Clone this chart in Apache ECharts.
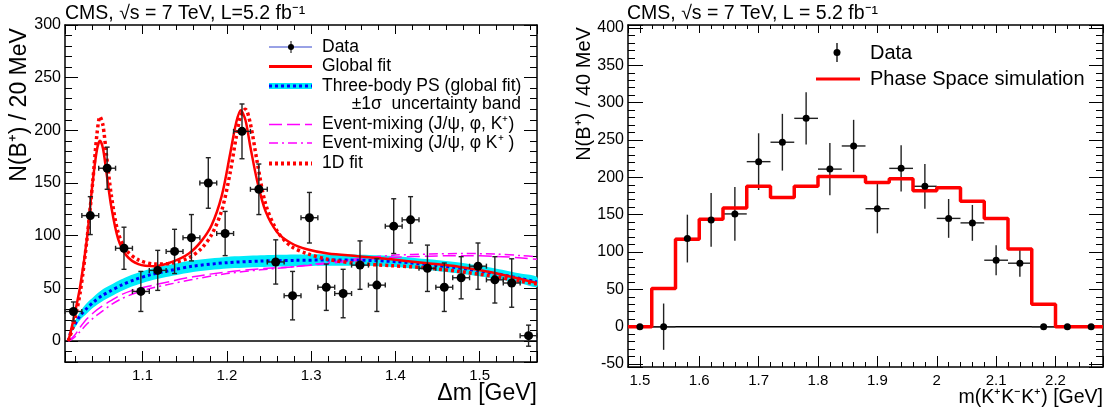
<!DOCTYPE html>
<html lang="en">
<head>
<meta charset="UTF-8">
<title>CMS B+ -> J/psi phi K+</title>
<script src="https://cdn.jsdelivr.net/npm/echarts@6/dist/echarts.min.js"></script>
<style>html,body{margin:0;background:#fff}</style>
</head>
<body>
<div id="main" style="width:1111px;height:417px;"></div>
<script>
// ---- left panel: delta m spectrum (20 MeV bins) ----
const dmCenters = [1.018, 1.038, 1.058, 1.078, 1.098, 1.118, 1.138, 1.158, 1.178, 1.198, 1.218, 1.238, 1.258, 1.278,
                   1.298, 1.318, 1.338, 1.358, 1.378, 1.398, 1.418, 1.438, 1.458, 1.478, 1.498, 1.518, 1.538, 1.558];
const dmCounts = [28, 119, 164, 88, 47, 67, 85, 98, 150, 102, 199, 144, 75, 43,
                  117, 51, 45, 72, 53, 109, 115, 69, 51, 60, 71, 58, 55, 5];
const dmErrs = [9, 18, 20, 20, 19, 19, 21, 22, 24, 21, 26, 24, 21, 23,
                24, 22, 23, 23, 25, 26, 22, 22, 23, 20, 22, 22, 23, 10];

// fit curves
const fitX = [1.012, 1.018, 1.026, 1.034, 1.041, 1.046, 1.0495, 1.053, 1.057, 1.063, 1.071, 1.081, 1.095, 1.115,
              1.135, 1.155, 1.170, 1.182, 1.194, 1.204, 1.211, 1.2165, 1.222, 1.228, 1.236, 1.246, 1.260, 1.276,
              1.295, 1.320, 1.355, 1.395, 1.435, 1.475, 1.515, 1.550, 1.568];
const globalFit = [0, 20, 52, 97, 152, 182, 190, 183, 161, 127, 97, 81, 73, 71,
                   75, 83, 95, 110, 138, 178, 207, 219, 210, 184, 152, 123, 103, 93,
                   87, 83, 80.5, 77.5, 74, 70.5, 65, 58.5, 55];
const fit1D = [0, 15, 46, 96, 152, 197, 213, 205, 178, 138, 103, 86, 77, 73,
               74, 79, 88, 101, 124, 160, 193, 214, 220, 206, 170, 130, 104, 90,
               83, 77.5, 73.5, 71.5, 69.5, 66, 61.5, 56.5, 54];

const bkgX = [1.012, 1.015, 1.020, 1.026, 1.034, 1.042, 1.052, 1.062, 1.075, 1.090, 1.110, 1.130,
              1.160, 1.200, 1.240, 1.280, 1.320, 1.360, 1.400, 1.440, 1.480, 1.520, 1.550, 1.568];
const psFit = [0, 9, 16, 24, 31, 37, 43, 47.5, 53, 58, 63, 66.5,
               71, 74.3, 75.8, 76.5, 76.8, 76.6, 75.3, 72.3, 68.8, 63.8, 59, 56];
const psLow = [0, 7, 13, 20, 26, 32, 37.5, 42, 47.5, 52.5, 57.5, 61,
               65.5, 68.8, 70.3, 71, 71.3, 71.4, 70.1, 67.1, 63.6, 59, 54.2, 51.2];
const psHigh = [0, 11, 19, 28, 36, 42, 48.5, 53, 58.5, 63.5, 68.5, 72,
                76.5, 79.8, 81.3, 82, 82.3, 81.8, 80.5, 77.5, 74, 68.6, 63.8, 60.8];
const mixA = [0, 2, 6, 13, 21, 27, 33, 38, 44, 48.5, 52.5, 56,
              61, 65.5, 68.5, 70.5, 73.5, 77, 79.5, 80.5, 81, 80.3, 78.8, 77.5];
const mixB = [0, 1, 4, 9, 16, 22, 28, 34, 40, 45, 50, 53.5,
              58.5, 64, 67.5, 70.5, 74.5, 78.5, 81.5, 82.5, 83, 82.5, 81, 80];

// ---- right panel: m(K+K-K+) (40 MeV bins) ----
const mCenters = [1.50, 1.54, 1.58, 1.62, 1.66, 1.70, 1.74, 1.78, 1.82, 1.86,
                  1.90, 1.94, 1.98, 2.02, 2.06, 2.10, 2.14, 2.18, 2.22, 2.26];
const mCounts = [0, 0, 118, 143, 151, 221, 247, 279, 211, 242, 158, 212, 188, 145, 139, 89, 85, 0, 0, 0];
const mErrs = [0, 31, 32, 36, 36, 38, 38, 35, 35, 35, 33, 31, 30, 26, 24, 20, 18, 0, 0, 0];
const phaseSpace = [0, 51, 117, 144, 159, 188, 173, 188, 201, 201, 193, 198, 182, 186, 168, 145, 104, 30, 0, 0];

const font = 'Liberation Sans, Arial, Helvetica, sans-serif';
const zip = (xs, ys) => xs.map((x, i) => [x, ys[i]]);

function errorBars(cap) {
    return function (params, api) {
        const x = api.value(0), y = api.value(1), e = api.value(2), w = api.value(3);
        const c = api.coord([x, y]);
        const hi = api.coord([x, y + e]), lo = api.coord([x, y - e]);
        const l = api.coord([x - w, y]), r = api.coord([x + w, y]);
        const st = {stroke: '#222', lineWidth: 1.4};
        const kids = [{type: 'line', shape: {x1: l[0], y1: c[1], x2: r[0], y2: c[1]}, style: st}];
        if (e > 0) kids.push({type: 'line', shape: {x1: c[0], y1: hi[1], x2: c[0], y2: lo[1]}, style: st});
        if (cap) {
            kids.push({type: 'line', shape: {x1: l[0], y1: c[1] - cap, x2: l[0], y2: c[1] + cap}, style: st});
            kids.push({type: 'line', shape: {x1: r[0], y1: c[1] - cap, x2: r[0], y2: c[1] + cap}, style: st});
            if (e > 0) {
                kids.push({type: 'line', shape: {x1: c[0] - cap, y1: hi[1], x2: c[0] + cap, y2: hi[1]}, style: st});
                kids.push({type: 'line', shape: {x1: c[0] - cap, y1: lo[1], x2: c[0] + cap, y2: lo[1]}, style: st});
            }
        }
        return {type: 'group', children: kids};
    };
}

// uncertainty band of the three-body PS curve, drawn as one polygon
function bandRender(params, api) {
    if (params.dataIndex !== 0) return;
    const pts = [];
    bkgX.forEach((x, i) => pts.push(api.coord([x, psHigh[i]])));
    for (let i = bkgX.length - 1; i >= 0; i--) pts.push(api.coord([bkgX[i], psLow[i]]));
    return {type: 'polygon', shape: {points: pts, smooth: 0.25}, style: {fill: '#00ecfa'}};
}

function xAx(grid, pos, min, max, split, major, minor, labels) {
    return {
        type: 'value', gridIndex: grid, position: pos, min: min, max: max, splitNumber: split,
        axisLine: {onZero: false, lineStyle: {color: '#000', width: 1.5}},
        axisTick: {inside: true, length: major, lineStyle: {color: '#000'}},
        minorTick: {show: true, splitNumber: 5, length: minor, lineStyle: {color: '#000'}},
        splitLine: {show: false},
        axisLabel: {show: labels, showMinLabel: false, showMaxLabel: false, fontSize: 15,
                    margin: 6, color: '#000', fontFamily: font}
    };
}
function yAx(grid, pos, min, max, split, major, minor, labels, showMax) {
    return {
        type: 'value', gridIndex: grid, position: pos, min: min, max: max, splitNumber: split,
        axisLine: {onZero: false, lineStyle: {color: '#000', width: 1.5}},
        axisTick: {inside: true, length: major, lineStyle: {color: '#000'}},
        minorTick: {show: true, splitNumber: 5, length: minor, lineStyle: {color: '#000'}},
        splitLine: {show: false},
        axisLabel: {show: labels, showMinLabel: false, showMaxLabel: !!showMax, fontSize: 16,
                    margin: 4, color: '#000', fontFamily: font}
    };
}

const noSym = {symbol: 'none', silent: true, animation: false};
function curve(name, xs, ys, color, width, type, z) {
    return Object.assign({
        name: name, type: 'line', xAxisIndex: 0, yAxisIndex: 0, smooth: 0.3, z: z,
        data: zip(xs, ys), lineStyle: {color: color, width: width, type: type}
    }, noSym);
}

const histData = mCenters.map((c, i) => [c - 0.02, phaseSpace[i]]);
histData.push([mCenters[mCenters.length - 1] + 0.02, phaseSpace[phaseSpace.length - 1]]);

const legendText = (x, y, t, size, align) => ({
    type: 'text', x: x, y: y, z: 100,
    style: {text: t, fontSize: size, fontFamily: font, fill: '#000', align: align || 'left', verticalAlign: 'middle'}
});
const seg = (x1, x2, y, stroke, w, dash) => ({
    type: 'line', z: 100, shape: {x1: x1, y1: y, x2: x2, y2: y},
    style: {stroke: stroke, lineWidth: w, lineDash: dash || null}
});

const myChart = echarts.init(document.getElementById('main'), null, {renderer: 'canvas'});
myChart.setOption({
    animation: false,
    backgroundColor: '#fff',
    grid: [
        {left: 65, top: 25, width: 472, height: 337, outerBoundsMode: 'none'},
        {left: 628, top: 25, width: 475, height: 342, outerBoundsMode: 'none'}
    ],
    xAxis: [
        xAx(0, 'bottom', 1.008, 1.568, 5, 11, 6, true),
        xAx(0, 'top', 1.008, 1.568, 5, 9, 5, false),
        xAx(1, 'bottom', 1.48, 2.28, 8, 11, 5, true),
        xAx(1, 'top', 1.48, 2.28, 8, 8, 4, false)
    ],
    yAxis: [
        yAx(0, 'left', -20, 300, 5, 13, 7, true, true),
        yAx(0, 'right', -20, 300, 5, 13, 7, false),
        yAx(1, 'left', -54, 404, 9, 15, 7, true),
        yAx(1, 'right', -54, 404, 9, 14, 7, false)
    ],
    series: [
        Object.assign({type: 'line', xAxisIndex: 0, yAxisIndex: 0, z: 1,
            data: [[1.008, 0], [1.568, 0]], lineStyle: {color: '#000', width: 1.5}}, noSym),
        {type: 'custom', xAxisIndex: 0, yAxisIndex: 0, z: 2, silent: true, animation: false,
            renderItem: bandRender, encode: {x: 0, y: [1, 2]},
            data: bkgX.map((x, i) => [x, psLow[i], psHigh[i]])},
        curve('mixA', bkgX, mixA, '#ff00ff', 1.5, [13, 5], 3),
        curve('mixB', bkgX, mixB, '#ff00ff', 1.5, [9, 4, 2, 4], 3),
        curve('ps', bkgX, psFit, '#0000ff', 3, [3, 3], 4),
        curve('fit1D', fitX, fit1D, '#ff0000', 3.5, [3, 3], 5),
        curve('global', fitX, globalFit, '#ff0000', 2.5, 'solid', 6),
        {type: 'custom', xAxisIndex: 0, yAxisIndex: 0, z: 7, silent: true, animation: false,
            renderItem: errorBars(2.5), encode: {x: 0, y: 1},
            data: dmCenters.map((x, i) => [x, dmCounts[i], dmErrs[i], 0.01])},
        {type: 'scatter', xAxisIndex: 0, yAxisIndex: 0, z: 8, silent: true, animation: false,
            symbolSize: 9, itemStyle: {color: '#000', opacity: 1}, data: zip(dmCenters, dmCounts)},

        Object.assign({type: 'line', xAxisIndex: 2, yAxisIndex: 2, z: 1,
            data: [[1.48, 0], [2.28, 0]], lineStyle: {color: '#000', width: 1.5}}, noSym),
        {type: 'custom', xAxisIndex: 2, yAxisIndex: 2, z: 3, silent: true, animation: false,
            renderItem: errorBars(0), encode: {x: 0, y: 1},
            data: mCenters.map((x, i) => [x, mCounts[i], mErrs[i], 0.02])},
        Object.assign({type: 'line', xAxisIndex: 2, yAxisIndex: 2, z: 4, step: 'end',
            data: histData, lineStyle: {color: '#ff0000', width: 3.5}}, noSym),
        {type: 'scatter', xAxisIndex: 2, yAxisIndex: 2, z: 5, silent: true, animation: false,
            symbolSize: 7, itemStyle: {color: '#000', opacity: 1}, data: zip(mCenters, mCounts)}
    ],
    graphic: [
        // titles
        legendText(65, 14, 'CMS, √s = 7 TeV, L=5.2 fb⁻¹', 19.5),
        legendText(627, 14, 'CMS, √s = 7 TeV, L = 5.2 fb⁻¹', 19.5),
        // axis titles
        {type: 'text', x: 20, y: 105, rotation: Math.PI / 2, z: 100,
            style: {text: 'N(B⁺) / 20 MeV', fontSize: 23, fontFamily: font, fill: '#000', align: 'center', verticalAlign: 'middle'}},
        {type: 'text', x: 584, y: 94, rotation: Math.PI / 2, z: 100,
            style: {text: 'N(B⁺) / 40 MeV', fontSize: 20, fontFamily: font, fill: '#000', align: 'center', verticalAlign: 'middle'}},
        legendText(537, 394, 'Δm [GeV]', 23, 'right'),
        legendText(1103, 398, 'm(K⁺K⁻K⁺) [GeV]', 19.5, 'right'),
        // left legend
        seg(269, 312, 47, '#3344cc', 1),
        {type: 'line', z: 100, shape: {x1: 291, y1: 41, x2: 291, y2: 53}, style: {stroke: '#000', lineWidth: 1}},
        {type: 'circle', z: 101, shape: {cx: 291, cy: 47, r: 3}, style: {fill: '#000'}},
        legendText(322, 47, 'Data', 17.5),
        seg(269, 312, 66.5, '#ff0000', 3),
        legendText(322, 66.5, 'Global fit', 17.5),
        {type: 'rect', z: 100, shape: {x: 269, y: 83, width: 43, height: 6}, style: {fill: '#00ecfa'}},
        seg(269, 312, 86, '#0000ff', 3, [3, 3]),
        legendText(322, 86, 'Three-body PS (global fit)', 17.5),
        legendText(521, 104, '±1σ  uncertainty band', 17.5, 'right'),
        seg(269, 312, 124.5, '#ff00ff', 1.5, [13, 5]),
        legendText(322, 124.5, 'Event-mixing (J/ψ, φ, K⁺)', 17.5),
        seg(269, 312, 143, '#ff00ff', 1.5, [9, 4, 2, 4]),
        legendText(322, 143, 'Event-mixing (J/ψ, φ K⁺ )', 17.5),
        seg(269, 312, 163.5, '#ff0000', 4, [3, 3]),
        legendText(322, 163.5, '1D fit', 17.5),
        // right legend
        {type: 'line', z: 100, shape: {x1: 837, y1: 43, x2: 837, y2: 62}, style: {stroke: '#000', lineWidth: 1.3}},
        {type: 'circle', z: 101, shape: {cx: 837, cy: 52.5, r: 3.5}, style: {fill: '#000'}},
        legendText(870, 53, 'Data', 20),
        seg(816, 860, 79, '#ff0000', 3),
        legendText(870, 79, 'Phase Space simulation', 20)
    ]
});
</script>
</body>
</html>
